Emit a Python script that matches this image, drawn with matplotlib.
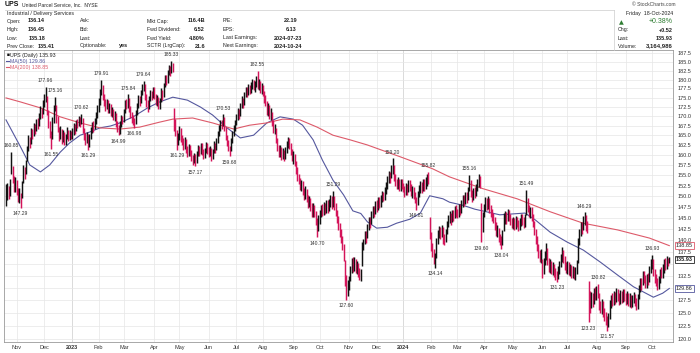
import numpy as np
import pandas as pd
import matplotlib
matplotlib.use('Agg')
import matplotlib.pyplot as plt
from matplotlib.ticker import FixedLocator, NullLocator, FixedFormatter

plt.rcParams['font.family'] = ['Liberation Sans', 'DejaVu Sans']

# trading calendar (NYSE holidays removed)
holidays = ['2022-11-24', '2022-12-26', '2023-01-02', '2023-01-16', '2023-02-20', '2023-04-07',
            '2023-05-29', '2023-06-19', '2023-07-04', '2023-09-04', '2023-11-23', '2023-12-25',
            '2024-01-01', '2024-01-15', '2024-02-19', '2024-03-29', '2024-05-27', '2024-06-19',
            '2024-07-04', '2024-09-02']
days = pd.bdate_range('2022-10-20', '2024-10-18')
days = days[~days.isin(pd.to_datetime(holidays))]

# daily closes, one line per month
close = [
    149.5, 151.8, 150.2, 152.6, 157.9, 154.1, 152.0, 153.4,
    151.2, 149.8, 150.6, 148.9, 152.7, 156.4, 155.2, 157.9, 161.3, 163.8, 162.5, 165.9, 164.7, 167.2, 166.1, 168.4, 167.5, 169.8, 171.5, 170.2, 173.1,
    174.6, 175.9, 171.2, 168.0, 165.4, 163.6, 168.9, 171.8, 173.4, 169.2, 166.7, 164.8, 166.2, 163.9, 165.5, 163.1, 164.6, 166.0, 164.2, 165.7, 164.9,
    165.8, 167.1, 166.3, 168.4, 167.9, 169.2, 168.1, 169.5, 166.4, 164.8, 163.5, 164.9, 162.6, 164.7, 166.2, 167.8, 166.9, 168.7, 170.3, 171.8,
    173.6, 176.2, 178.4, 175.1, 173.8, 172.4, 173.9, 171.6, 172.8, 170.9, 171.7, 169.8, 170.6, 168.1, 166.9, 166.0, 167.8, 169.4, 168.7,
    171.2, 173.5, 172.8, 174.6, 172.1, 170.3, 169.4, 168.7, 168.2, 170.9, 172.6, 174.8, 173.5, 176.4, 177.9, 178.6, 175.2, 173.4, 172.1, 174.6, 176.3, 175.1, 177.2,
    175.6, 173.8, 174.9, 172.6, 174.1, 176.8, 175.3, 178.1, 180.6, 179.4, 181.9, 183.2, 182.0, 184.1, 183.0, 168.4, 165.9, 163.1, 164.5,
    166.2, 164.0, 163.5, 162.1, 163.8, 161.4, 160.2, 161.9, 160.6, 159.3, 158.4, 159.6, 158.1, 160.3, 161.7, 160.5, 162.3, 161.0, 159.8, 160.9, 162.4, 161.1,
    160.2, 161.5, 159.4, 160.8, 162.7, 161.3, 163.6, 165.2, 166.8, 168.1, 167.4, 169.6, 166.9, 164.6, 163.2, 161.8, 160.7, 163.5, 165.2, 166.9, 168.3,
    169.8, 171.4, 170.2, 172.8, 174.5, 173.1, 175.6, 177.2, 176.0, 177.9, 176.8, 178.5, 179.3, 177.9, 178.7, 180.1, 178.2, 179.4, 177.1, 178.3,
    176.2, 174.5, 173.8, 171.2, 172.6, 170.1, 171.4, 168.3, 166.5, 167.1, 163.8, 161.9, 160.4, 161.8, 159.7, 160.9, 159.3, 161.2, 162.6, 163.8, 162.4, 160.8, 159.5,
    159.8, 158.1, 156.2, 154.5, 153.8, 152.4, 153.1, 151.2, 150.1, 151.5, 149.6, 148.2, 149.3, 147.4, 146.1, 147.5, 146.0, 144.3, 142.6, 144.8,
    145.9, 147.2, 146.4, 147.8, 146.9, 148.3, 147.1, 148.6, 149.4, 148.0, 149.5, 147.6, 146.3, 144.8, 143.2, 141.6, 140.3, 138.7, 136.4, 131.5, 129.3, 130.8,
    131.6, 133.8, 135.2, 134.1, 135.6, 133.9, 134.7, 133.2, 132.4, 133.1, 138.9, 139.6, 141.2, 140.4, 142.8, 144.3, 143.6, 145.8, 146.9, 146.2, 148.1,
    147.3, 148.9, 148.1, 149.6, 150.4, 149.7, 151.3, 152.6, 153.9, 155.2, 154.1, 156.8, 157.3, 154.6, 153.2, 152.5, 153.8, 152.1, 153.4, 152.7,
    151.8, 150.6, 152.3, 151.1, 153.0, 152.2, 150.9, 151.7, 150.2, 149.4, 148.0, 150.5, 151.9, 152.8, 151.6, 153.4, 152.1, 153.8, 154.6, 153.9, 141.3,
    138.6, 137.2, 135.9, 136.4, 139.8, 141.5, 142.3, 141.1, 142.7, 140.6, 139.9, 141.8, 143.6, 144.9, 145.7, 144.2, 146.1, 145.3, 147.0, 146.2,
    145.8, 147.3, 146.5, 148.2, 149.6, 148.7, 150.3, 149.2, 151.4, 153.6, 150.8, 149.6, 151.2, 150.4, 152.1, 153.4, 154.2, 152.8, 142.1, 145.6,
    147.4, 148.9, 147.6, 149.3, 147.1, 146.2, 145.3, 144.7, 143.2, 141.8, 142.5, 140.6, 139.9, 139.2, 141.4, 144.9, 145.8, 144.6, 146.3, 145.1, 144.2, 143.6,
    144.3, 143.1, 144.6, 143.8, 142.9, 144.1, 145.2, 144.4, 143.6, 145.0, 148.7, 147.2, 146.1, 146.8, 145.3, 143.8, 142.1, 140.2, 138.6, 137.1, 136.2, 137.4,
    133.1, 135.4, 136.8, 137.9, 135.6, 134.2, 135.1, 133.7, 134.5, 133.2, 132.4, 132.0, 133.6, 134.8, 136.3, 137.2, 136.1, 134.6, 133.9,
    134.8, 133.5, 134.2, 132.9, 133.8, 132.6, 133.4, 134.9, 139.8, 141.6, 143.2, 142.4, 144.7, 145.1, 143.0, 142.6, 127.9, 126.8, 128.4, 127.1, 129.2, 128.5,
    129.6, 128.9, 126.4, 125.8, 126.9, 125.1, 124.3, 123.6, 122.9, 124.1, 126.7, 127.8, 127.2, 128.5, 127.6, 129.1, 128.3, 127.5, 128.7, 127.9, 129.0, 128.2,
    127.4, 128.6, 127.3, 128.1, 126.9, 127.8, 128.4, 127.2, 126.5, 127.9, 129.8, 131.2, 130.4, 132.6, 131.9, 130.8, 132.1, 131.4, 133.8, 135.2,
    135.6, 133.4, 131.8, 131.2, 130.4, 131.6, 133.1, 132.8, 134.2, 135.1, 134.6, 135.8, 135.41, 135.93,
]
high = [
    152.9, 153.2, 152.4, 154.1, 160.85, 157.3, 154.8, 154.6,
    153.8, 152.0, 151.9, 150.7, 153.5, 157.6, 157.1, 158.8, 162.2, 165.1, 164.6, 166.8, 166.5, 168.3, 168.0, 169.2, 169.4, 170.7, 172.6, 172.1, 174.3,
    176.0, 177.96, 175.4, 171.6, 168.7, 166.2, 169.8, 172.9, 175.16, 173.0, 169.9, 167.2, 167.4, 166.5, 166.3, 165.8, 165.4, 167.1, 166.3, 166.4, 166.2,
    167.0, 168.2, 168.0, 169.1, 169.3, 170.0, 169.8, 170.62, 169.6, 167.0, 165.6, 165.8, 165.2, 165.4, 167.1, 168.5, 168.6, 169.5, 171.2, 173.0,
    174.8, 177.3, 179.91, 178.6, 176.0, 174.5, 174.7, 174.2, 173.6, 173.2, 172.5, 172.0, 171.4, 170.9, 168.8, 167.7, 168.6, 170.2, 170.1,
    172.0, 174.3, 174.6, 175.84, 174.9, 172.8, 171.2, 170.4, 169.6, 171.7, 173.4, 175.6, 175.3, 177.2, 178.8, 179.64, 178.7, 175.9, 174.2, 175.4, 177.1, 176.9, 178.0,
    177.8, 176.1, 175.7, 175.2, 174.9, 177.6, 177.2, 178.9, 181.4, 181.3, 182.7, 184.1, 183.9, 185.33, 184.6, 172.3, 169.2, 166.4, 165.6,
    167.3, 166.9, 165.0, 164.2, 164.6, 164.1, 162.3, 162.7, 162.4, 161.2, 160.1, 160.4, 160.2, 161.1, 162.5, 162.3, 163.1, 162.9, 161.6, 161.7, 163.2, 162.9,
    161.9, 162.3, 161.8, 161.6, 163.4, 163.1, 164.4, 166.0, 167.6, 168.9, 169.0, 170.53, 169.8, 167.2, 165.0, 163.7, 162.2, 164.3, 166.0, 167.7, 169.1,
    170.6, 172.2, 172.0, 173.6, 175.3, 175.0, 176.4, 178.0, 177.8, 178.7, 178.5, 179.3, 180.1, 179.8, 179.5, 181.0, 182.55, 180.2, 179.6, 179.1,
    178.6, 176.8, 175.6, 174.1, 173.4, 172.9, 172.2, 171.2, 168.9, 167.9, 166.8, 164.3, 162.5, 162.6, 162.0, 161.7, 161.3, 162.0, 163.4, 164.6, 164.2, 162.9, 161.4,
    160.9, 160.2, 158.6, 156.9, 155.3, 154.4, 153.9, 153.5, 152.0, 152.3, 151.8, 150.2, 150.1, 149.6, 148.3, 148.3, 148.0, 146.6, 144.9, 145.6,
    146.7, 148.0, 148.1, 148.6, 148.5, 149.1, 149.0, 149.4, 150.2, 150.0, 151.29, 150.1, 148.4, 146.9, 145.5, 143.9, 142.4, 141.0, 139.2, 135.8, 132.6, 131.6,
    132.4, 134.6, 136.1, 136.4, 136.3, 135.9, 135.5, 135.1, 134.0, 133.9, 139.7, 140.4, 142.0, 142.1, 143.6, 145.1, 145.2, 146.6, 147.7, 147.8, 148.9,
    149.1, 149.7, 149.8, 150.4, 151.2, 151.1, 152.1, 153.4, 154.7, 156.0, 155.9, 157.6, 159.20, 157.5, 155.4, 154.1, 154.6, 154.2, 154.2, 154.0,
    153.2, 152.4, 153.1, 152.9, 153.8, 153.9, 152.8, 152.5, 152.1, 151.0, 149.9, 151.3, 152.7, 153.6, 153.4, 154.2, 154.0, 154.6, 155.4, 155.82, 145.2,
    141.9, 139.5, 138.1, 137.2, 140.6, 142.3, 143.1, 143.0, 143.5, 142.9, 141.4, 142.6, 144.4, 145.7, 146.5, 146.2, 146.9, 146.9, 147.8, 147.9,
    147.0, 148.1, 148.2, 149.0, 150.4, 150.3, 151.1, 151.0, 152.2, 155.16, 153.9, 151.5, 152.0, 152.1, 152.9, 154.2, 155.3, 154.9, 148.4, 146.4,
    148.2, 149.7, 149.5, 150.1, 149.6, 148.0, 147.1, 146.2, 145.3, 144.0, 143.3, 142.8, 141.5, 140.9, 142.2, 146.1, 146.6, 146.4, 147.1, 146.9, 145.9, 145.0,
    145.1, 145.0, 145.4, 145.3, 144.5, 144.9, 146.0, 146.0, 145.2, 145.8, 151.49, 149.5, 148.0, 147.6, 147.4, 145.9, 144.3, 142.6, 140.9, 139.2, 137.9, 138.2,
    136.0, 136.2, 137.6, 139.4, 138.3, 136.1, 135.9, 135.6, 135.3, 135.0, 134.1, 133.4, 134.4, 135.6, 137.1, 138.6, 138.0, 136.7, 135.4,
    135.6, 135.4, 135.0, 134.8, 134.6, 134.3, 134.2, 135.7, 140.6, 142.4, 144.0, 144.1, 145.5, 146.29, 145.6, 144.2, 131.3, 129.4, 129.2, 129.0, 130.0, 130.1,
    130.4, 130.82, 128.9, 127.4, 127.7, 127.3, 126.0, 125.1, 124.4, 124.9, 127.5, 128.6, 128.9, 129.3, 129.2, 129.9, 129.8, 129.0, 129.5, 129.4, 129.8, 129.7,
    128.9, 129.4, 129.0, 128.9, 128.6, 128.6, 129.2, 128.8, 127.9, 128.7, 130.6, 132.0, 132.1, 133.4, 133.5, 132.6, 132.9, 133.0, 134.6, 136.0,
    136.93, 136.0, 133.9, 132.8, 131.9, 132.4, 133.9, 134.2, 135.0, 135.9, 136.1, 136.6, 136.2, 136.45,
]
low = [
    147.8, 149.1, 149.3, 150.0, 155.2, 153.2, 150.9, 151.1,
    150.4, 148.6, 148.4, 147.29, 149.6, 153.1, 154.0, 155.3, 158.4, 161.0, 161.7, 162.8, 163.9, 164.9, 165.2, 166.0, 166.6, 167.4, 169.3, 169.4, 170.5,
    172.4, 173.8, 170.3, 166.9, 164.3, 161.55, 163.9, 168.2, 171.3, 168.1, 165.8, 163.6, 164.1, 162.8, 163.2, 162.4, 162.6, 164.0, 163.5, 163.7, 164.0,
    163.9, 165.1, 165.4, 166.0, 166.8, 167.5, 167.2, 167.9, 165.5, 163.7, 162.6, 162.9, 161.29, 162.1, 164.0, 165.7, 165.9, 166.5, 168.0, 169.6,
    171.0, 173.1, 175.6, 174.3, 172.6, 171.3, 171.8, 170.8, 170.9, 170.1, 169.8, 169.0, 168.7, 167.2, 165.8, 164.99, 165.4, 167.1, 167.8,
    168.5, 170.9, 171.9, 172.3, 171.2, 169.4, 168.3, 167.6, 166.98, 167.9, 170.2, 172.1, 172.6, 173.4, 175.8, 176.9, 174.3, 172.5, 171.0, 171.8, 174.0, 174.2, 174.8,
    174.7, 172.9, 172.6, 171.8, 172.0, 173.7, 174.4, 175.1, 177.8, 178.5, 179.0, 181.3, 181.1, 181.9, 182.2, 166.1, 164.8, 161.29, 162.4,
    163.8, 163.2, 162.4, 161.3, 161.6, 160.6, 159.4, 159.8, 159.7, 158.5, 157.6, 157.9, 157.17, 157.9, 159.8, 159.7, 160.2, 160.1, 159.0, 159.2, 160.5, 160.3,
    159.4, 159.7, 158.6, 158.9, 160.5, 160.4, 161.2, 163.1, 164.7, 166.2, 166.5, 167.3, 166.0, 163.7, 162.3, 160.9, 159.68, 160.9, 163.1, 164.8, 166.2,
    167.7, 169.1, 169.3, 170.0, 172.1, 172.2, 173.0, 175.1, 175.1, 175.6, 175.9, 176.2, 177.4, 177.0, 176.6, 177.9, 177.3, 177.0, 176.2, 175.9,
    175.3, 173.6, 172.7, 170.3, 170.1, 169.2, 169.0, 167.4, 165.6, 165.2, 162.9, 161.0, 159.5, 159.6, 158.8, 158.9, 158.4, 158.9, 160.5, 161.7, 161.5, 159.9, 158.6,
    157.8, 157.2, 155.3, 153.6, 152.9, 151.5, 151.3, 150.3, 149.2, 149.3, 148.7, 147.3, 147.4, 146.5, 145.2, 145.3, 145.1, 143.4, 140.70, 142.1,
    143.6, 145.1, 145.5, 145.7, 146.0, 146.2, 146.2, 146.5, 147.6, 147.1, 147.4, 146.7, 145.4, 143.9, 142.3, 140.7, 139.4, 137.8, 135.5, 130.3, 127.60, 128.4,
    129.5, 131.4, 133.0, 133.2, 133.4, 133.0, 132.8, 132.3, 131.5, 131.4, 134.6, 137.8, 139.1, 139.5, 140.6, 142.2, 142.7, 143.7, 144.9, 145.3, 146.0,
    146.4, 146.8, 147.2, 147.5, 148.6, 148.8, 149.2, 150.5, 151.8, 153.1, 153.2, 154.3, 155.4, 153.7, 152.3, 151.6, 151.7, 151.2, 151.3, 151.8,
    150.9, 149.7, 150.2, 150.2, 150.9, 151.3, 150.0, 149.6, 149.3, 148.5, 146.81, 147.9, 149.8, 150.7, 150.7, 151.3, 151.2, 151.7, 152.5, 153.0, 140.2,
    137.7, 136.3, 135.0, 134.14, 136.2, 139.2, 140.6, 140.2, 140.8, 139.3, 139.0, 139.7, 141.5, 142.9, 143.8, 143.3, 144.0, 144.4, 145.0, 145.3,
    144.9, 145.2, 145.6, 146.1, 147.5, 147.8, 148.2, 148.3, 149.0, 151.2, 149.9, 148.7, 149.1, 149.5, 150.0, 151.3, 152.2, 151.9, 139.60, 141.8,
    145.1, 146.6, 146.7, 147.0, 146.2, 145.3, 144.4, 143.8, 142.3, 140.9, 140.8, 139.7, 139.0, 138.04, 138.9, 142.0, 143.7, 143.7, 144.2, 144.2, 143.3, 142.7,
    142.4, 142.2, 142.5, 142.9, 142.0, 142.3, 143.1, 143.5, 142.7, 142.9, 145.6, 146.3, 145.2, 144.9, 144.4, 142.9, 141.2, 139.3, 137.7, 136.2, 135.3, 135.1,
    131.9, 132.8, 134.7, 135.8, 134.7, 133.3, 133.0, 132.8, 132.6, 132.3, 131.5, 131.23, 131.7, 132.9, 134.2, 135.3, 135.2, 133.7, 133.0,
    132.8, 132.6, 132.4, 132.0, 131.9, 131.7, 131.6, 132.8, 135.2, 139.0, 140.9, 141.5, 142.3, 143.4, 142.1, 141.7, 123.23, 125.0, 125.9, 126.2, 126.7, 127.6,
    127.5, 127.9, 125.5, 124.9, 124.8, 124.2, 123.4, 122.7, 121.57, 122.3, 123.9, 125.9, 126.3, 126.6, 126.7, 127.2, 127.4, 126.6, 126.8, 127.0, 127.1, 127.3,
    126.5, 126.7, 126.4, 126.2, 126.0, 126.1, 126.9, 126.3, 125.6, 125.8, 127.7, 129.1, 129.5, 130.5, 131.0, 129.9, 130.0, 130.5, 131.2, 133.1,
    133.9, 132.5, 130.9, 130.3, 129.6, 129.8, 131.0, 131.9, 132.1, 133.0, 133.7, 133.9, 134.5, 135.18,
]

# moving averages (trading-day index, value)
ma50_idx = [0, 11, 18, 26, 33, 41, 48, 56, 63, 71, 79, 86, 96, 107, 116, 126, 137, 147, 156, 167, 177, 187, 197,
            207, 217, 224, 232, 239, 247, 255, 262, 268, 273, 280, 288, 295, 305, 313, 320, 330, 335, 345, 354,
            373, 392, 400, 411, 424, 436, 449, 462, 474, 489, 496, 501]
ma50_val = [169.0, 162.0, 157.5, 155.8, 157.5, 160.7, 163.0, 165.0, 165.8, 166.9, 167.4, 168.2, 169.8, 172.2, 173.8,
            175.1, 174.3, 172.4, 170.3, 166.9, 164.3, 165.0, 168.2, 169.8, 169.2, 167.6, 163.8, 158.7, 153.8, 150.3,
            146.6, 146.0, 144.1, 142.7, 142.9, 143.8, 144.7, 146.1, 150.1, 149.4, 148.6, 147.9, 147.0, 145.7, 146.1,
            144.5, 141.8, 139.6, 137.9, 135.3, 132.6, 130.2, 128.1, 128.9, 129.86]
ma200_idx = [0, 11, 26, 41, 56, 71, 86, 101, 116, 126, 141, 156, 172, 184, 197, 209, 222, 235, 247, 260, 273, 298,
             322, 335, 360, 386, 411, 436, 462, 486, 501]
ma200_val = [174.9, 173.8, 172.2, 169.8, 168.2, 166.9, 166.6, 167.1, 168.4, 169.2, 169.5, 168.2, 166.6, 167.6, 168.2,
             169.2, 169.0, 167.1, 165.0, 163.8, 162.5, 159.5, 156.6, 154.6, 151.8, 149.4, 146.4, 143.8, 142.3, 140.5, 138.85]

# swing labels: (trading-day index, 'h' for high / 'l' for low)
swings = [(4, 'h'), (11, 'l'), (30, 'h'), (34, 'l'), (37, 'h'), (57, 'h'), (62, 'l'), (72, 'h'), (85, 'l'),
          (92, 'h'), (97, 'l'), (104, 'h'), (125, 'h'), (129, 'l'), (143, 'l'), (164, 'h'), (169, 'l'),
          (190, 'h'), (235, 'l'), (247, 'h'), (257, 'l'), (292, 'h'), (310, 'l'), (319, 'h'), (324, 'l'),
          (350, 'h'), (359, 'l'), (374, 'l'), (393, 'h'), (416, 'l'), (437, 'h'), (440, 'l'), (447, 'h'),
          (454, 'l'), (488, 'h')]

n = len(close)
x = np.arange(n)
close = np.array(close)
high = np.array(high)
low = np.array(low)

RED = '#d4145a'
BLUE = '#55589e'
PINK = '#dd5a6a'

fig = plt.figure(figsize=(7, 3.53), dpi=100)
ax = fig.add_axes([4 / 700, 11 / 353, 669 / 700, 292 / 353])

ax.set_yscale('log')
ax.set_ylim(119.44, 188.5)
ax.set_xlim(-1.5, 503.8)

# right axis labels; 130.0 and 135.0 sit under the value tags, so they stay blank
yt = np.arange(120, 188, 2.5)
ylab = ['' if v in (130.0, 135.0) else '%.1f' % v for v in yt]
ax.yaxis.set_major_locator(FixedLocator(yt))
ax.yaxis.set_major_formatter(FixedFormatter(ylab))
ax.yaxis.set_minor_locator(NullLocator())
ax.yaxis.tick_right()
ax.tick_params(axis='y', length=0, pad=3, labelsize=4, labelcolor='#333333')

# month ticks
mstart = [i for i in range(1, n) if days[i].month != days[i - 1].month]
mlab = [days[i].strftime('%Y') if days[i].month == 1 else days[i].strftime('%b') for i in mstart]
ax.xaxis.set_major_locator(FixedLocator(mstart))
ax.xaxis.set_major_formatter(FixedFormatter(mlab))
ax.tick_params(axis='x', length=0, pad=2, labelsize=4, labelcolor='#333333')
for lab in ax.get_xticklabels():
    if lab.get_text().isdigit():
        lab.set_fontweight('bold')

ax.grid(True, color='#e6e6e6', lw=0.5)
for i in mstart:
    if days[i].month == 1:
        ax.axvline(i, color='#b8b8b8', lw=0.6, zorder=0.5)
for s in ax.spines.values():
    s.set_color('#9a9a9a')
    s.set_linewidth(0.6)

# price bars
up = np.r_[True, close[1:] >= close[:-1]]
cols = np.where(up, '#111111', RED)
ax.vlines(x, low, high, colors=cols, lw=1.05, zorder=3)

ax.plot(ma50_idx, ma50_val, color=BLUE, lw=0.8, zorder=2)
ax.plot(ma200_idx, ma200_val, color=PINK, lw=0.8, zorder=2)

for i, k in swings:
    if k == 'h':
        ax.annotate('%.2f' % high[i], (i, high[i]), xytext=(0, 6), textcoords='offset pixels',
                    ha='center', va='center', fontsize=3.6, color='#333333', zorder=4)
    else:
        ax.annotate('%.2f' % low[i], (i, low[i]), xytext=(0, -6), textcoords='offset pixels',
                    ha='center', va='center', fontsize=3.6, color='#333333', zorder=4)

# right-side value tags
for v, ec, w in [(ma200_val[-1], PINK, 'normal'), (close[-1], '#222222', 'bold'), (ma50_val[-1], BLUE, 'normal')]:
    ax.annotate('%.2f' % v, (1.0, v), xycoords=('axes fraction', 'data'), xytext=(3, 0),
                textcoords='offset pixels', ha='left', va='center', fontsize=4, fontweight=w, color='#222222',
                bbox=dict(boxstyle='square,pad=0.2', fc='white', ec=ec, lw=0.6), zorder=6, annotation_clip=False)

# legend inside plot
def t(px, py, s, **kw):
    kw.setdefault('va', 'center')
    kw.setdefault('fontsize', 3.8)
    kw.setdefault('color', '#222222')
    fig.text(px / 700, 1 - py / 353, s, **kw)

t(7, 55, '\u25a0', fontsize=3.5, color='#111111')
t(10, 55, 'UPS (Daily) 135.93')
fig.add_artist(plt.Line2D([6 / 700, 9 / 700], [1 - 61 / 353] * 2, color=BLUE, lw=0.8))
t(9.5, 61, 'MA(50) 129.86', color=BLUE)
fig.add_artist(plt.Line2D([6 / 700, 9 / 700], [1 - 67 / 353] * 2, color=PINK, lw=0.8))
t(9.5, 67, 'MA(200) 138.85', color=PINK)

# header
t(5, 5, 'UPS', fontsize=5, fontweight='bold', color='#111111')
t(22, 5, 'United Parcel Service, Inc.  NYSE', fontsize=3.6)
t(7, 13.5, 'Industrial / Delivery Services')
fig.add_artist(plt.Line2D([5 / 700, 614 / 700], [1 - 9.5 / 353] * 2, color='#cccccc', lw=0.5))
fig.add_artist(plt.Line2D([614 / 700, 614 / 700], [1 - 9.5 / 353, 1 - 50 / 353], color='#cccccc', lw=0.5))

rows = [21, 29.5, 38, 46]
col1 = ['Open:', 'High:', 'Low:', 'Prev Close:']
val1 = ['136.14', '136.45', '135.18', '135.41']
val1_x = [45, 45, 45, 55]
col2 = ['Ask:', 'Bid:', 'Last:', 'Optionable:']
col3 = ['Mkt Cap:', 'Fwd Dividend:', 'Fwd Yield:', 'SCTR (LrgCap):']
val3 = ['116.4B', '6.52', '4.80%', '21.6']
col4 = ['P/E:', 'EPS:', 'Last Earnings:', 'Next Earnings:']
val4 = ['22.19', '6.13', '2024-07-23', '2024-10-24']
val4_x = [297, 297, 302, 302]
for r in range(4):
    y = rows[r]
    t(7, y, col1[r])
    t(val1_x[r], y, val1[r], ha='right', fontweight='bold', fontsize=4)
    t(80, y, col2[r])
    t(147, y, col3[r])
    t(205, y, val3[r], ha='right', fontweight='bold', fontsize=4)
    t(223, y, col4[r])
    t(val4_x[r], y, val4[r], ha='right', fontweight='bold', fontsize=4)
t(128, 46, 'yes', ha='right', fontweight='bold', fontsize=4)

t(675, 5, '\u00a9 StockCharts.com', ha='right', fontsize=3.6, color='#444444')
t(673, 13.5, 'Friday  18-Oct-2024', ha='right')
t(619, 22.5, '\u25b2', fontsize=4.5, color='#2e7d32', family='DejaVu Sans')
t(673, 21.5, '+0.38%', ha='right', fontsize=5, color='#2e7d32')
t(618, 30, 'Chg:')
t(673, 30, '+0.52', ha='right', fontweight='bold', fontsize=4)
t(618, 38, 'Last:')
t(673, 38, '135.93', ha='right', fontweight='bold', fontsize=4)
t(618, 46, 'Volume:')
t(673, 46, '3,164,986', ha='right', fontweight='bold', fontsize=4.3)

fig.savefig('out.png', dpi=100)
